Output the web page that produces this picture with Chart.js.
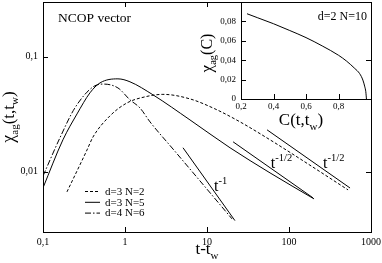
<!DOCTYPE html>
<html>
<head>
<meta charset="utf-8">
<script src="https://cdn.jsdelivr.net/npm/chart.js@4.4.0/dist/chart.umd.min.js"></script>
<style>
  html, body { margin: 0; padding: 0; background: #fff; }
  #wrap { position: relative; width: 382px; height: 263px; }
  #inset { position: absolute; left: 190px; top: 0; }
</style>
</head>
<body>
<div id="wrap">
  <canvas id="main" width="382" height="263"></canvas>
  <canvas id="inset" width="192" height="140"></canvas>
</div>
<script>
// main panel, chi_ag(t,tw) against t-tw (log-log)
const tN2 = [0.196, 0.344, 0.407, 0.656, 1.06, 1.75, 2.9, 6.2, 12.5, 25.3, 58.7, 136, 525];
const chiN2 = [0.0067, 0.0155, 0.0201, 0.0307, 0.0398, 0.0449, 0.0472, 0.0431, 0.0353, 0.0272, 0.019, 0.013, 0.00697];
const tN5 = [0.1, 0.175, 0.26, 0.374, 0.496, 0.82, 1.15, 2.19, 6.2, 19.1, 58.7, 202];
const chiN5 = [0.00726, 0.019, 0.0319, 0.0487, 0.0594, 0.0644, 0.0607, 0.0468, 0.0283, 0.0162, 0.0098, 0.00582];
const tN6 = [0.1, 0.161, 0.245, 0.407, 0.54, 0.82, 1.15, 1.52, 2.02, 3.85, 8.2, 20.2];
const chiN6 = [0.0092, 0.0198, 0.036, 0.0548, 0.058, 0.0537, 0.0423, 0.036, 0.0272, 0.0158, 0.00836, 0.0039];

// power law guide segments
const tSlope1 = [5.1, 21.9];
const chiSlope1 = [0.0162, 0.00377];
const tSlopeHalfA = [20.8, 196];
const chiSlopeHalfA = [0.01825, 0.00595];
const tSlopeHalfB = [54, 555];
const chiSlopeHalfB = [0.0232, 0.00724];

// inset, chi_ag(C) for d=2 N=10
const cInset = [0.237, 0.3, 0.4, 0.5, 0.6, 0.7, 0.8, 0.85, 0.9, 0.93, 0.95, 0.962, 0.968, 0.972];
const chiInset = [0.0879, 0.0839, 0.0776, 0.0706, 0.0633, 0.0547, 0.0451, 0.039, 0.0315, 0.0262, 0.0195, 0.0125, 0.0075, 0];

const xTicksMain = [0.1, 1, 10, 100, 1000];
const yTicksMain = [0.01, 0.1];
const xTicksInset = [0.2, 0.4, 0.6, 0.8];
const yTicksInset = [0, 0.02, 0.04, 0.06, 0.08];

const FONT = "'Liberation Serif', 'DejaVu Serif', serif";
Chart.defaults.font.family = FONT;
Chart.defaults.color = '#000';

const comma = v => String(v).replace('.', ',');
const pts = (xs, ys) => xs.map((v, i) => ({x: v, y: ys[i]}));

function rich(ctx, parts, x, y, center) {
  let w = 0;
  parts.forEach(p => {
    ctx.font = p.size + 'px ' + FONT;
    p.w = ctx.measureText(p.t).width;
    w += p.w;
  });
  let cx = center ? x - w / 2 : x;
  parts.forEach(p => {
    ctx.font = p.size + 'px ' + FONT;
    ctx.fillText(p.t, cx, y + (p.dy || 0));
    cx += p.w;
  });
}

function tick(ctx, x1, y1, x2, y2) {
  ctx.beginPath();
  ctx.moveTo(x1, y1);
  ctx.lineTo(x2, y2);
  ctx.stroke();
}

const curves = [
  {label: 'd=3 N=2', data: pts(tN2, chiN2), borderDash: [3, 2]},
  {label: 'd=3 N=5', data: pts(tN5, chiN5), borderDash: []},
  {label: 'd=4 N=6', data: pts(tN6, chiN6), borderDash: [6, 2, 1.5, 2]},
].map(d => Object.assign(d, {borderColor: '#000', borderWidth: 1, pointRadius: 0, cubicInterpolationMode: 'monotone', fill: false}));

const guides = [pts(tSlope1, chiSlope1), pts(tSlopeHalfA, chiSlopeHalfA), pts(tSlopeHalfB, chiSlopeHalfB)]
  .map(d => ({label: '', data: d, borderColor: '#000', borderWidth: 1, pointRadius: 0, fill: false}));

const notes = [
  {t: 12.2, chi: 0.00684, sup: '-1'},
  {t: 60, chi: 0.0108, sup: '-1/2'},
  {t: 260, chi: 0.0108, sup: '-1/2'},
];

const mainDecor = {
  id: 'mainDecor',
  afterDatasetsDraw(chart) {
    const {ctx, chartArea: a, scales: {x, y}} = chart;
    ctx.save();
    ctx.strokeStyle = '#000';
    ctx.fillStyle = '#000';
    ctx.lineWidth = 1;
    ctx.setLineDash([]);
    ctx.strokeRect(a.left + 0.5, a.top + 0.5, a.right - a.left, a.bottom - a.top);
    [1, 10, 100].forEach(v => {
      const px = Math.round(x.getPixelForValue(v)) + 0.5;
      tick(ctx, px, a.bottom, px, a.bottom - 5);
      tick(ctx, px, a.top, px, a.top + 5);
    });
    yTicksMain.forEach(v => {
      const py = Math.round(y.getPixelForValue(v)) + 0.5;
      tick(ctx, a.left, py, a.left + 5, py);
      tick(ctx, a.right, py, a.right - 5, py);
    });

    ctx.textAlign = 'left';
    ctx.textBaseline = 'alphabetic';
    ctx.font = '13.5px ' + FONT;
    ctx.fillText('NCOP vector', 58, 22);

    // axis titles
    rich(ctx, [{t: 't-t', size: 17}, {t: 'w', size: 11, dy: 5}], (a.left + a.right) / 2, 254, true);
    ctx.save();
    ctx.translate(14, 117);
    ctx.rotate(-Math.PI / 2);
    rich(ctx, [{t: 'χ', size: 18}, {t: 'ag', size: 11, dy: 4}, {t: '(t,t', size: 17}, {t: 'w', size: 11, dy: 4}, {t: ')', size: 17}], 0, 0, true);
    ctx.restore();

    // slope labels
    notes.forEach(n => {
      const px = x.getPixelForValue(n.t), py = y.getPixelForValue(n.chi);
      rich(ctx, [{t: 't', size: 16}, {t: n.sup, size: 10.5, dy: -7}], px, py, false);
    });

    // legend
    curves.forEach((c, i) => {
      const ly = 191.5 + i * 10.8;
      ctx.setLineDash(c.borderDash);
      tick(ctx, 85, ly, 100, ly);
      ctx.setLineDash([]);
      ctx.font = '11px ' + FONT;
      ctx.textBaseline = 'middle';
      ctx.fillText(c.label, 105, ly + 0.5);
      ctx.textBaseline = 'alphabetic';
    });
    ctx.restore();
  }
};

new Chart(document.getElementById('main'), {
  type: 'line',
  data: {datasets: [...curves, ...guides]},
  options: {
    responsive: false,
    animation: false,
    devicePixelRatio: 1,
    layout: {padding: {top: 2, right: 11, left: 0, bottom: 0}},
    plugins: {legend: {display: false}, tooltip: {enabled: false}},
    scales: {
      x: {
        type: 'logarithmic', min: 0.1, max: 1000,
        grid: {display: false, drawTicks: false}, border: {display: false},
        afterBuildTicks: s => { s.ticks = xTicksMain.map(v => ({value: v})); },
        afterFit: s => { s.height = 31; s.paddingLeft = 0; s.paddingRight = 0; },
        ticks: {callback: v => comma(v), autoSkip: false, maxRotation: 0, padding: 4, font: {size: 10}}
      },
      y: {
        type: 'logarithmic', min: 0.003, max: 0.3,
        grid: {display: false, drawTicks: false}, border: {display: false},
        afterBuildTicks: s => { s.ticks = yTicksMain.map(v => ({value: v})); },
        afterFit: s => { s.width = 43; s.paddingTop = 0; s.paddingBottom = 0; },
        ticks: {callback: v => comma(v), autoSkip: false, padding: 5, font: {size: 10}}
      }
    }
  },
  plugins: [mainDecor]
});

const insetDecor = {
  id: 'insetDecor',
  beforeDraw(chart) {
    const {ctx, chartArea: a} = chart;
    ctx.save();
    ctx.fillStyle = '#fff';
    ctx.fillRect(a.left, a.top, a.right - a.left + 1, a.bottom - a.top + 1);
    ctx.restore();
  },
  afterDatasetsDraw(chart) {
    const {ctx, chartArea: a, scales: {x, y}} = chart;
    ctx.save();
    ctx.strokeStyle = '#000';
    ctx.fillStyle = '#000';
    ctx.lineWidth = 1;
    ctx.strokeRect(a.left + 0.5, a.top + 0.5, a.right - a.left, a.bottom - a.top);
    xTicksInset.slice(1).forEach(v => {
      const px = Math.round(x.getPixelForValue(v)) + 0.5;
      tick(ctx, px, a.bottom, px, a.bottom - 5);
    });
    yTicksInset.slice(1).forEach(v => {
      const py = Math.round(y.getPixelForValue(v)) + 0.5;
      tick(ctx, a.left, py, a.left + 5, py);
    });
    const pr = Math.round(y.getPixelForValue(0.04)) + 0.5;
    tick(ctx, a.right, pr, a.right - 5, pr);

    ctx.textBaseline = 'alphabetic';
    ctx.textAlign = 'right';
    ctx.font = '12px ' + FONT;
    ctx.fillText('d=2 N=10', a.right - 4, 20);
    ctx.textAlign = 'left';

    rich(ctx, [{t: 'C(t,t', size: 17}, {t: 'w', size: 11, dy: 5}, {t: ')', size: 17}], (a.left + a.right) / 2 - 5, 125, true);
    ctx.save();
    ctx.translate(22, 53);
    ctx.rotate(-Math.PI / 2);
    rich(ctx, [{t: 'χ', size: 17}, {t: 'ag', size: 10.5, dy: 4}, {t: '(C)', size: 16}], 0, 0, true);
    ctx.restore();
    ctx.restore();
  }
};

new Chart(document.getElementById('inset'), {
  type: 'line',
  data: {datasets: [{label: 'd=2 N=10', data: pts(cInset, chiInset), borderColor: '#000', borderWidth: 1, pointRadius: 0, cubicInterpolationMode: 'monotone', fill: false}]},
  options: {
    responsive: false,
    animation: false,
    devicePixelRatio: 1,
    layout: {padding: {top: 2, right: 11, left: 0, bottom: 0}},
    plugins: {legend: {display: false}, tooltip: {enabled: false}},
    scales: {
      x: {
        type: 'linear', min: 0.2, max: 1,
        grid: {display: false, drawTicks: false}, border: {display: false},
        afterBuildTicks: s => { s.ticks = xTicksInset.map(v => ({value: v})); },
        afterFit: s => { s.height = 41; s.paddingLeft = 0; s.paddingRight = 0; },
        ticks: {callback: v => comma(v), autoSkip: false, maxRotation: 0, padding: 2, font: {size: 9}}
      },
      y: {
        type: 'linear', min: 0, max: 0.1,
        grid: {display: false, drawTicks: false}, border: {display: false},
        afterBuildTicks: s => { s.ticks = yTicksInset.map(v => ({value: v})); },
        afterFit: s => { s.width = 51; s.paddingTop = 0; s.paddingBottom = 0; },
        ticks: {callback: v => comma(v), autoSkip: false, padding: 5, font: {size: 9}}
      }
    }
  },
  plugins: [insetDecor]
});
</script>
</body>
</html>
